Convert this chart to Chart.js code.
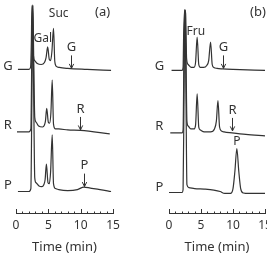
<!DOCTYPE html>
<html><head><meta charset="utf-8">
<script src="https://cdn.jsdelivr.net/npm/chart.js@4/dist/chart.umd.min.js"></script>
<style>
html,body{margin:0;padding:0;background:#fff;overflow:hidden;width:267px;height:256px;position:relative}
#ca{position:absolute;left:0;top:0}
#cb{position:absolute;left:134px;top:0}
</style></head><body>
<canvas id="ca" width="134" height="256"></canvas>
<canvas id="cb" width="150" height="256"></canvas>
<script>
// ---------- data: retention time (min) and detector signal ----------
const traceNames = ['G', 'R', 'P'];
const xTickValues = [0, 5, 10, 15];

// Panel (a)
const aTimesG = [0.3, 2.0, 2.25, 2.38, 2.45, 2.55, 2.7, 2.9, 3.3, 3.9, 4.4, 4.65, 4.9, 5.15, 5.35, 5.55, 5.8, 6.0, 6.25, 6.7, 8.0, 11.0, 14.7];
const aValsG  = [0,   0,   2,    30,   65,   62,   14,  9,   6,   5,   7,   12,   23,  10,   9,    18,   42,  8,   3,    2,   1,   0,    -1];
const aTimesR = [0.15, 2.0, 2.3, 2.45, 2.6, 2.75, 2.9, 3.1, 3.5, 4.1, 4.4, 4.55, 4.75, 5.0, 5.2, 5.4, 5.6, 5.8, 6.1, 6.6, 8.0, 10.0, 14.5];
const aValsR  = [0,    0,   3,   80,   130, 70,   15,  10,  6,   5,   7,   11,   24,   10,  9,   20,  53,  8,   3,   3,   2,   1.5,  -2];
const aTimesP = [0.3, 2.0, 2.3, 2.45, 2.6, 2.75, 2.9, 3.1, 3.5, 4.0, 4.3, 4.5, 4.7, 4.95, 5.15, 5.35, 5.6, 5.8, 6.1, 6.6, 8.0, 9.5, 10.5, 11.5, 13.0, 14.7];
const aValsP  = [0,   0,   3,   90,   190, 90,   14,  9,   6,   5,   7,   12,  28,  9,    8,    20,   58,  8,   3,   2,   1,   2,   4.5,  3.5,  2,    0];

// Panel (b)
const bTimesG = [0.4, 2.05, 2.2, 2.3, 2.45, 2.6, 2.75, 3.0, 3.5, 3.9, 4.15, 4.4, 4.65, 4.9, 5.4, 5.9, 6.2, 6.5, 6.75, 7.0, 7.5, 8.4, 10.0, 15.0];
const bValsG  = [0,   0,    3,   40,  62,   58,  12,   6,   3,   3,   8,    34,  6,    3,   3,   5,   10,  29,  6,    3,   2,   1.5, 1,    0];
const bTimesR = [0.2, 2.05, 2.2, 2.35, 2.5, 2.65, 2.8, 3.0, 3.4, 3.9, 4.15, 4.4, 4.65, 4.9, 5.5, 6.5, 7.1, 7.4, 7.65, 7.9, 8.2, 8.6, 9.85, 12.0, 15.0];
const bValsR  = [0,   0,    3,   90,   126, 80,   12,  7,   4,   4,   8,    40,  6,    3,   1,   1,   4,   12,  33,   6,   2,   1,   0,    -1.5, -3];
const bTimesP = [0.0, 2.05, 2.2, 2.35, 2.5, 2.65, 2.8, 3.1, 4.0, 5.5, 7.0, 8.0, 8.7, 9.6, 10.0, 10.3, 10.6, 10.9, 11.2, 11.6, 12.5, 15.0];
const bValsP  = [0,   0,    3,   100,  187, 100,  8,   5,   4,   3.5, 2.5, 1,   -1,  -1,  4,    22,   45,   22,   4,    -0.5, -1,   -1];

// annotations (time, signal relative to the named trace)
const aPeakText  = ['Gal', 'Suc', '(a)'];
const aPeakTimes = [4.15, 6.6, 13.4];
const aPeakVals  = [32, 57, 58];
const aArrowTrace = ['G', 'R', 'P'];
const aArrowTimes = [8.5, 9.9, 10.5];
const aArrowTips  = [1, 2, 5];

const bPeakText  = ['Fru', '(b)', 'P'];
const bPeakTrace = ['G', 'G', 'P'];
const bPeakTimes = [4.2, 13.9, 10.6];
const bPeakVals  = [40, 59, 52];
const bArrowTrace = ['G', 'R'];
const bArrowTimes = [8.4, 9.85];
const bArrowTips  = [2, 2];

// ---------- drawing ----------
const INK = '#333333';
const FONT = "'Noto Sans', 'DejaVu Sans', sans-serif";

function pts(ts, vs, off) { return ts.map((t, i) => ({x: t, y: vs[i] + off})); }

const decor = {
  id: 'decor',
  afterDatasetsDraw(chart, args, o) {
    const {ctx, chartArea} = chart;
    const x = chart.scales.x, y = chart.scales.y;
    ctx.save();
    ctx.strokeStyle = INK; ctx.fillStyle = INK; ctx.lineWidth = 1;
    // up-pointing axis ticks
    x.ticks.forEach(tk => {
      const px = Math.round(x.getPixelForValue(tk.value)) + 0.5;
      const len = xTickValues.includes(tk.value) ? 4 : 1.5;
      ctx.beginPath(); ctx.moveTo(px, chartArea.bottom); ctx.lineTo(px, chartArea.bottom - len); ctx.stroke();
    });
    ctx.textAlign = 'center'; ctx.textBaseline = 'middle';
    // trace names at left
    ctx.font = '13px ' + FONT;
    traceNames.forEach(n => {
      ctx.fillText(n, x.getPixelForValue(o.nameTime), y.getPixelForValue(o.offsets[n] + o.nameLift[n]));
    });
    // peak labels
    o.peakText.forEach((s, i) => {
      ctx.font = (s[0] === '(' ? '13px ' : '12px ') + FONT;
      const n = o.peakTrace[i];
      ctx.fillText(s, x.getPixelForValue(o.peakTimes[i]), y.getPixelForValue(o.offsets[n] + o.peakVals[i]));
    });
    // arrows
    ctx.font = '13px ' + FONT;
    o.arrowTrace.forEach((n, i) => {
      const px = Math.round(x.getPixelForValue(o.arrowTimes[i])) + 0.5;
      const tip = y.getPixelForValue(o.offsets[n] + o.arrowTips[i]);
      ctx.beginPath(); ctx.moveTo(px, tip - 13); ctx.lineTo(px, tip); ctx.stroke();
      ctx.beginPath(); ctx.moveTo(px - 2.2, tip - 4.5); ctx.lineTo(px, tip); ctx.lineTo(px + 2.2, tip - 4.5); ctx.stroke();
      ctx.fillText(n, px, tip - 21);
    });
    ctx.restore();
  }
};

function makeChart(id, sets, offsets, padL, padR, deco) {
  const datasets = traceNames.map((n, i) => ({
    label: n,
    data: pts(sets[i][0], sets[i][1], offsets[n]),
    borderColor: INK, borderWidth: 1.2, pointRadius: 0,
    cubicInterpolationMode: 'monotone', fill: false
  }));
  deco.offsets = offsets;
  return new Chart(document.getElementById(id), {
    type: 'line',
    data: {datasets},
    options: {
      responsive: false, animation: false, devicePixelRatio: 1,
      layout: {padding: {left: padL, right: padR, top: 0, bottom: -2}},
      plugins: {legend: {display: false}, tooltip: {enabled: false}, decor: deco},
      scales: {
        x: {
          type: 'linear', min: 0, max: 15,
          grid: {display: false, drawTicks: false},
          border: {display: true, color: INK, width: 1},
          ticks: {stepSize: 1, autoSkip: false, maxRotation: 0, padding: 5, color: INK,
                  font: {family: FONT, size: 12},
                  callback: v => xTickValues.includes(v) ? String(v) : ''},
          title: {display: true, text: 'Time (min)', color: INK, font: {family: FONT, size: 13},
                  padding: {top: 2, bottom: 3}}
        },
        y: {type: 'linear', min: 0, max: 218, display: false}
      }
    },
    plugins: [decor]
  });
}

makeChart('ca', [[aTimesG, aValsG], [aTimesR, aValsR], [aTimesP, aValsP]],
  {G: 147, R: 83, P: 22}, 16, 21,
  {nameTime: -1.25, nameLift: {G: 3, R: 7, P: 6},
   peakText: aPeakText, peakTrace: ['G', 'G', 'G'], peakTimes: aPeakTimes, peakVals: aPeakVals,
   arrowTrace: aArrowTrace, arrowTimes: aArrowTimes, arrowTips: aArrowTips});

makeChart('cb', [[bTimesG, bValsG], [bTimesR, bValsR], [bTimesP, bValsP]],
  {G: 146, R: 82, P: 21}, 35, 19,
  {nameTime: -1.5, nameLift: {G: 4, R: 7, P: 5},
   peakText: bPeakText, peakTrace: bPeakTrace, peakTimes: bPeakTimes, peakVals: bPeakVals,
   arrowTrace: bArrowTrace, arrowTimes: bArrowTimes, arrowTips: bArrowTips});
</script>
</body></html>
